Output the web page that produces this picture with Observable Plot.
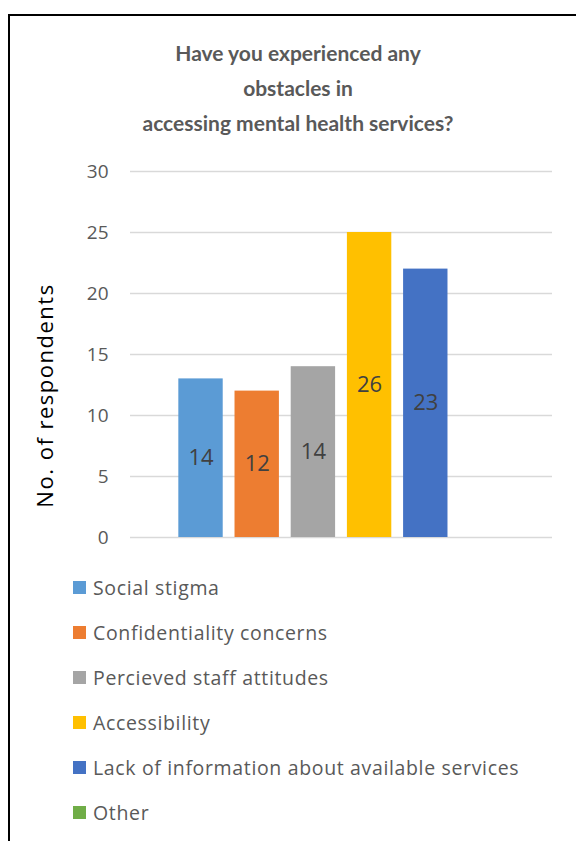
<!DOCTYPE html>
<html>
<head>
<meta charset="utf-8">
<script src="https://cdn.jsdelivr.net/npm/d3@7"></script>
<script src="https://cdn.jsdelivr.net/npm/@observablehq/plot@0.6"></script>
<style>
  html, body { margin: 0; padding: 0; background: #fff; width: 576px; height: 841px; overflow: hidden; position: relative; font-family: "Open Sans", sans-serif; }
  #frame { position: absolute; left: 8px; top: 14px; width: 620px; height: 900px; border: 2px solid #000; box-sizing: border-box; }
  #title { position: absolute; left: 0; top: 35px; width: 596px; text-align: center; font-family: Lato, sans-serif; font-weight: bold; font-size: 21px; line-height: 35px; color: #595959; }
  #chart { position: absolute; left: 0; top: 150px; }
  #legend { position: absolute; left: 73px; top: 565px; }
  .item { height: 45px; display: flex; align-items: center; font-size: 19.5px; letter-spacing: 0.65px; color: #595959; }
  .sw { width: 13px; height: 13px; margin-right: 7px; flex: none; }
</style>
</head>
<body>
<div id="frame"></div>
<div id="title">Have you experienced any<br>obstacles in<br>accessing mental health services?</div>
<div id="chart"></div>
<div id="legend"></div>
<script>
const series = ["Social stigma", "Confidentiality concerns", "Percieved staff attitudes", "Accessibility", "Lack of information about available services", "Other"];
const barValues = [13, 12, 14, 25, 22, 0];
const labelValues = [14, 12, 14, 26, 23, null];
const colors = ["#5b9bd5", "#ed7d31", "#a5a5a5", "#ffc000", "#4472c4", "#70ad47"];
const yTicks = [0, 5, 10, 15, 20, 25, 30];
const yLabel = "No. of respondents";

const data = series.map((s, i) => ({series: s, bar: barValues[i], label: labelValues[i]}));

const chart = Plot.plot({
  width: 576,
  height: 400,
  marginLeft: 130,
  marginRight: 24,
  marginTop: 21,
  marginBottom: 13,
  style: {fontFamily: "'Open Sans', sans-serif", background: "transparent"},
  x: {domain: series, paddingInner: 0.21, paddingOuter: 0.86, round: false, axis: null},
  y: {domain: [0, 30], ticks: yTicks},
  color: {domain: series, range: colors},
  marks: [
    Plot.gridY(yTicks, {stroke: "#d9d9d9", strokeOpacity: 1, strokeWidth: 1.5}),
    Plot.axisY(yTicks, {tickSize: 0, tickPadding: 22, fontSize: 19, color: "#595959", label: null}),
    Plot.barY(data, {x: "series", y: "bar", fill: "series"}),
    Plot.text(data.filter(d => d.label != null), {x: "series", y: d => d.bar / 2, text: d => String(d.label), fontSize: 22, fill: "#404040"}),
    Plot.text([yLabel], {frameAnchor: "left", textAnchor: "middle", dx: -85, dy: 41, rotate: -90, fontSize: 22, fill: "#000"})
  ]
});
d3.select(chart).selectAll("text").filter(function() { return this.textContent === yLabel; })
  .style("letter-spacing", "1.5px");
document.getElementById("chart").appendChild(chart);

const legend = document.getElementById("legend");
series.forEach((s, i) => {
  const item = document.createElement("div");
  item.className = "item";
  const sw = document.createElement("span");
  sw.className = "sw";
  sw.style.background = colors[i];
  const t = document.createElement("span");
  t.textContent = s;
  item.appendChild(sw);
  item.appendChild(t);
  legend.appendChild(item);
});
</script>
</body>
</html>
